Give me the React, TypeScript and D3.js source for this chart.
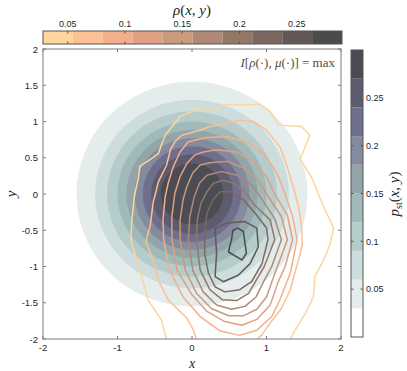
import React from 'react';
import * as d3 from 'd3';

// colour bar of rho (top)
const rhoEdges = [0.0284, 0.0545, 0.0806, 0.1068, 0.1329, 0.159, 0.1851, 0.2112, 0.2374, 0.2635, 0.2896];
const rhoColors = ['#fed59d', '#fbc194', '#f5ae8a', '#dfa083', '#c99a7e', '#b08976', '#937867', '#7a6860', '#625855', '#4b4b4b'];
const rhoTicks = [0.05, 0.1, 0.15, 0.2, 0.25];

// colour bar of p_st (right)
const pstEdges = [0, 0.03, 0.06, 0.09, 0.12, 0.15, 0.18, 0.21, 0.24, 0.27, 0.3];
const pstColors = ['#ffffff', '#e4ecec', '#cddcdc', '#b5cccb', '#9fbab8', '#93a5a8', '#858b9e', '#6f6e8d', '#5d5b6e', '#4b4b53'];
const pstTicks = [0.05, 0.1, 0.15, 0.2, 0.25];

// p_st level sets are circles round the origin: level -> radius
const pstLevels = [0.03, 0.06, 0.09, 0.12, 0.15, 0.18, 0.21, 0.24, 0.27];
const pstRadii = [1.55, 1.3, 1.14, 1.0, 0.88, 0.77, 0.66, 0.55, 0.42];

// rho contour lines, outer to inner
const rhoLevels = [0.041, 0.067, 0.093, 0.12, 0.146, 0.172, 0.198, 0.225, 0.251, 0.277];
const rho1 = [[-0.34, -2.01], [-0.41, -1.74], [-0.59, -1.46], [-0.65, -1.23], [-0.74, -0.91], [-0.82, -0.66], [-0.81, -0.38], [-0.77, -0.01], [-0.72, 0.22], [-0.7, 0.38], [-0.54, 0.49], [-0.45, 0.56], [-0.41, 0.68], [-0.36, 0.81], [-0.16, 1.07], [0.11, 1.18], [0.29, 1.16], [0.44, 1.23], [0.76, 1.23], [0.91, 1.24], [1.05, 1.14], [1.16, 0.95], [1.47, 0.93], [1.58, 0.81], [1.49, 0.58], [1.45, 0.49], [1.61, 0.22], [1.74, -0.11], [1.9, -0.47], [1.85, -0.7], [1.79, -0.86], [1.65, -1.14], [1.63, -1.42], [1.52, -1.65], [1.36, -1.92], [1.32, -2.01]];
const rho2 = [[0.06, -2.01], [0.02, -1.88], [-0.07, -1.71], [-0.32, -1.46], [-0.45, -1.19], [-0.52, -0.91], [-0.62, -0.66], [-0.56, -0.43], [-0.52, -0.11], [-0.45, 0.17], [-0.34, 0.4], [-0.29, 0.61], [-0.23, 0.72], [-0.14, 0.81], [0.11, 0.88], [0.24, 0.93], [0.44, 0.97], [0.64, 1.02], [0.82, 1.0], [1.0, 0.88], [1.11, 0.74], [1.18, 0.65], [1.27, 0.4], [1.36, 0.1], [1.43, -0.17], [1.47, -0.45], [1.48, -0.7], [1.43, -0.91], [1.38, -1.09], [1.32, -1.32], [1.2, -1.58], [1.05, -1.78], [0.94, -1.94], [0.87, -2.01]];
const rho3 = [[-0.05, 0.72], [-0.16, 0.58], [-0.25, 0.38], [-0.32, 0.15], [-0.36, -0.04], [-0.39, -0.36], [-0.38, -0.63], [-0.3, -1.05], [-0.12, -1.42], [0.11, -1.69], [0.38, -1.89], [0.64, -1.95], [0.87, -1.88], [1.07, -1.69], [1.18, -1.46], [1.32, -1.09], [1.41, -0.63], [1.35, -0.31], [1.25, 0], [1.14, 0.29], [0.96, 0.56], [0.73, 0.72], [0.47, 0.79], [0.2, 0.78]];
const rho4 = [[0.04, 0.54], [-0.07, 0.42], [-0.16, 0.24], [-0.23, 0.01], [-0.27, -0.31], [-0.27, -0.63], [-0.2, -1.05], [0.0, -1.39], [0.2, -1.62], [0.44, -1.76], [0.67, -1.81], [0.87, -1.73], [1.05, -1.53], [1.15, -1.23], [1.25, -1.0], [1.35, -0.63], [1.28, -0.29], [1.11, 0], [1.0, 0.24], [0.82, 0.45], [0.6, 0.58], [0.33, 0.61], [0.15, 0.58]];
const rho5 = [[0.11, 0.4], [0.01, 0.29], [-0.07, 0.1], [-0.12, -0.08], [-0.16, -0.36], [-0.16, -0.63], [-0.09, -1.05], [0.06, -1.37], [0.26, -1.58], [0.49, -1.68], [0.69, -1.68], [0.87, -1.59], [1.0, -1.42], [1.09, -1.16], [1.28, -0.63], [1.2, -0.31], [1.0, 0], [0.89, 0.19], [0.71, 0.35], [0.47, 0.45], [0.24, 0.43]];
const rho6 = [[0.2, 0.26], [0.1, 0.15], [0.03, -0.04], [-0.03, -0.31], [-0.05, -0.63], [0.01, -1.05], [0.15, -1.35], [0.33, -1.53], [0.53, -1.59], [0.71, -1.55], [0.86, -1.42], [0.97, -1.19], [1.07, -1.0], [1.2, -0.63], [1.11, -0.34], [0.89, 0], [0.78, 0.15], [0.6, 0.26], [0.4, 0.31]];
const rho7 = [[0.29, 0.15], [0.2, 0.03], [0.12, -0.13], [0.07, -0.36], [0.06, -0.63], [0.11, -1.05], [0.24, -1.32], [0.41, -1.46], [0.6, -1.47], [0.76, -1.37], [0.89, -1.14], [0.97, -1.0], [1.11, -0.63], [1.05, -0.36], [0.82, -0.13], [0.71, 0.03], [0.55, 0.15], [0.42, 0.19]];
const rho8 = [[0.38, 0.03], [0.28, -0.08], [0.2, -0.27], [0.17, -0.5], [0.17, -0.82], [0.22, -1.09], [0.31, -1.28], [0.44, -1.35], [0.64, -1.32], [0.8, -1.21], [0.94, -0.96], [1.02, -0.63], [1.0, -0.47], [0.85, -0.27], [0.69, -0.08], [0.53, 0.03]];
const rho9 = [[0.31, -0.47], [0.47, -0.4], [0.71, -0.38], [0.87, -0.47], [0.89, -0.73], [0.78, -0.96], [0.62, -1.12], [0.42, -1.21], [0.31, -1.14], [0.33, -0.82]];
const rho10 = [[0.55, -0.5], [0.62, -0.47], [0.69, -0.52], [0.73, -0.82], [0.67, -0.91], [0.49, -0.8], [0.53, -0.63]];
const rhoLines = [rho1, rho2, rho3, rho4, rho5, rho6, rho7, rho8, rho9, rho10];
const rhoOpen = [true, true, false, false, false, false, false, false, false, false];

const xTicks = [-2, -1, 0, 1, 2];
const yTicks = [-2, -1.5, -1, -0.5, 0, 0.5, 1, 1.5, 2];

const W = 407, H = 371;
const box = { l: 43, r: 341, t: 49, b: 339 };
const axisCol = '#7c7c7c';
const txtCol = '#262626';
const sans = "'Liberation Sans', Arial, sans-serif";
const serif = "'Liberation Serif', 'Times New Roman', serif";

export default function App() {
  const x = d3.scaleLinear().domain([-2, 2]).range([box.l, box.r]);
  const y = d3.scaleLinear().domain([-2, 2]).range([box.b, box.t]);

  const rhoColor = d3.scaleQuantize<string>().domain([rhoEdges[0], rhoEdges[rhoEdges.length - 1]]).range(rhoColors);
  const pstColor = d3.scaleQuantize<string>().domain([0, 0.3]).range(pstColors);

  const cbX = d3.scaleLinear().domain([rhoEdges[0], rhoEdges[rhoEdges.length - 1]]).range([43, 342]);
  const cbTop = { t: 31, b: 44 };
  const cbY = d3.scaleLinear().domain([0, 0.3]).range([337, 50]);
  const cbRight = { l: 351, r: 363 };

  const openLine = d3.line<number[]>().x(d => x(d[0])).y(d => y(d[1]));
  const closedLine = d3.line<number[]>().x(d => x(d[0])).y(d => y(d[1])).curve(d3.curveLinearClosed);

  const tickFmt = (v: number) => String(v);

  return (
    <svg width={W} height={H} style={{ position: 'absolute', left: 0, top: 0, background: '#fff' }}>
      <defs>
        <clipPath id="plotclip">
          <rect x={box.l} y={box.t} width={box.r - box.l} height={box.b - box.t} />
        </clipPath>
      </defs>

      {/* p_st filled contours */}
      <g clipPath="url(#plotclip)">
        {pstLevels.map((lv, i) => (
          <ellipse key={'p' + i}
            cx={x(0)} cy={y(0)}
            rx={x(pstRadii[i]) - x(0)} ry={y(0) - y(pstRadii[i])}
            fill={pstColor(lv + 0.015)} />
        ))}
        {/* rho contour lines */}
        {rhoLines.map((pts, i) => (
          <path key={'r' + i}
            d={(rhoOpen[i] ? openLine(pts) : closedLine(pts)) || ''}
            fill="none" stroke={rhoColor(rhoLevels[i])} strokeWidth={1.5} strokeLinejoin="round" />
        ))}
      </g>

      {/* axes box and ticks */}
      <rect x={box.l} y={box.t} width={box.r - box.l} height={box.b - box.t} fill="none" stroke={axisCol} strokeWidth={1} />
      {xTicks.map(t => (
        <g key={'xt' + t}>
          <line x1={x(t)} x2={x(t)} y1={box.b} y2={box.b - 3} stroke={axisCol} />
          <line x1={x(t)} x2={x(t)} y1={box.t} y2={box.t + 3} stroke={axisCol} />
          <text x={x(t)} y={box.b + 12} textAnchor="middle" fontFamily={sans} fontSize={9.5} fill={txtCol}>{tickFmt(t)}</text>
        </g>
      ))}
      {yTicks.map(t => (
        <g key={'yt' + t}>
          <line x1={box.l} x2={box.l + 3} y1={y(t)} y2={y(t)} stroke={axisCol} />
          <line x1={box.r} x2={box.r - 3} y1={y(t)} y2={y(t)} stroke={axisCol} />
          <text x={box.l - 5} y={y(t) + 3.5} textAnchor="end" fontFamily={sans} fontSize={9.5} fill={txtCol}>{tickFmt(t)}</text>
        </g>
      ))}
      <text x={x(0)} y={368} textAnchor="middle" fontFamily={serif} fontStyle="italic" fontSize={14} fill={txtCol}>x</text>
      <text transform={`translate(16,${y(0)}) rotate(-90)`} textAnchor="middle" fontFamily={serif} fontStyle="italic" fontSize={15} fill={txtCol}>y</text>

      <text x={box.r - 6} y={67} textAnchor="end" fontFamily={serif} fontSize={13} fill="#5a4b45">
        <tspan fontStyle="italic">I</tspan>[<tspan fontStyle="italic">ρ</tspan>(·), <tspan fontStyle="italic">μ</tspan>(·)] = max
      </text>

      {/* top colour bar */}
      {rhoColors.map((c, i) => (
        <rect key={'cb' + i} x={cbX(rhoEdges[i])} y={cbTop.t} width={cbX(rhoEdges[i + 1]) - cbX(rhoEdges[i])} height={cbTop.b - cbTop.t} fill={c} />
      ))}
      <rect x={cbX.range()[0]} y={cbTop.t} width={cbX.range()[1] - cbX.range()[0]} height={cbTop.b - cbTop.t} fill="none" stroke="#555" strokeWidth={1} />
      {rhoTicks.map(t => (
        <g key={'ct' + t}>
          <line x1={cbX(t)} x2={cbX(t)} y1={cbTop.t} y2={cbTop.t + 2.5} stroke="#555" />
          <line x1={cbX(t)} x2={cbX(t)} y1={cbTop.b} y2={cbTop.b - 2.5} stroke="#555" />
          <text x={cbX(t)} y={26.5} textAnchor="middle" fontFamily={sans} fontSize={9} fill={txtCol}>{tickFmt(t)}</text>
        </g>
      ))}
      <text x={192} y={15} textAnchor="middle" fontFamily={serif} fontSize={15} fill={txtCol}>
        <tspan fontStyle="italic">ρ</tspan>(<tspan fontStyle="italic">x</tspan>, <tspan fontStyle="italic">y</tspan>)
      </text>

      {/* right colour bar */}
      {pstColors.map((c, i) => (
        <rect key={'cr' + i} x={cbRight.l} y={cbY(pstEdges[i + 1])} width={cbRight.r - cbRight.l} height={cbY(pstEdges[i]) - cbY(pstEdges[i + 1])} fill={c} />
      ))}
      <rect x={cbRight.l} y={cbY(0.3)} width={cbRight.r - cbRight.l} height={cbY(0) - cbY(0.3)} fill="none" stroke="#555" strokeWidth={1} />
      {pstTicks.map(t => (
        <g key={'cy' + t}>
          <line x1={cbRight.l} x2={cbRight.l + 2.5} y1={cbY(t)} y2={cbY(t)} stroke="#555" />
          <line x1={cbRight.r} x2={cbRight.r - 2.5} y1={cbY(t)} y2={cbY(t)} stroke="#555" />
          <text x={cbRight.r + 3} y={cbY(t) + 3.2} fontFamily={sans} fontSize={9} fill={txtCol}>{tickFmt(t)}</text>
        </g>
      ))}
      <text transform={`translate(399,${y(0)}) rotate(-90)`} textAnchor="middle" fontFamily={serif} fontSize={15} fill={txtCol}>
        <tspan fontStyle="italic">p</tspan><tspan fontSize={10} dy={3}>st</tspan><tspan dy={-3}>(</tspan><tspan fontStyle="italic">x</tspan>, <tspan fontStyle="italic">y</tspan>)
      </text>
    </svg>
  );
}
